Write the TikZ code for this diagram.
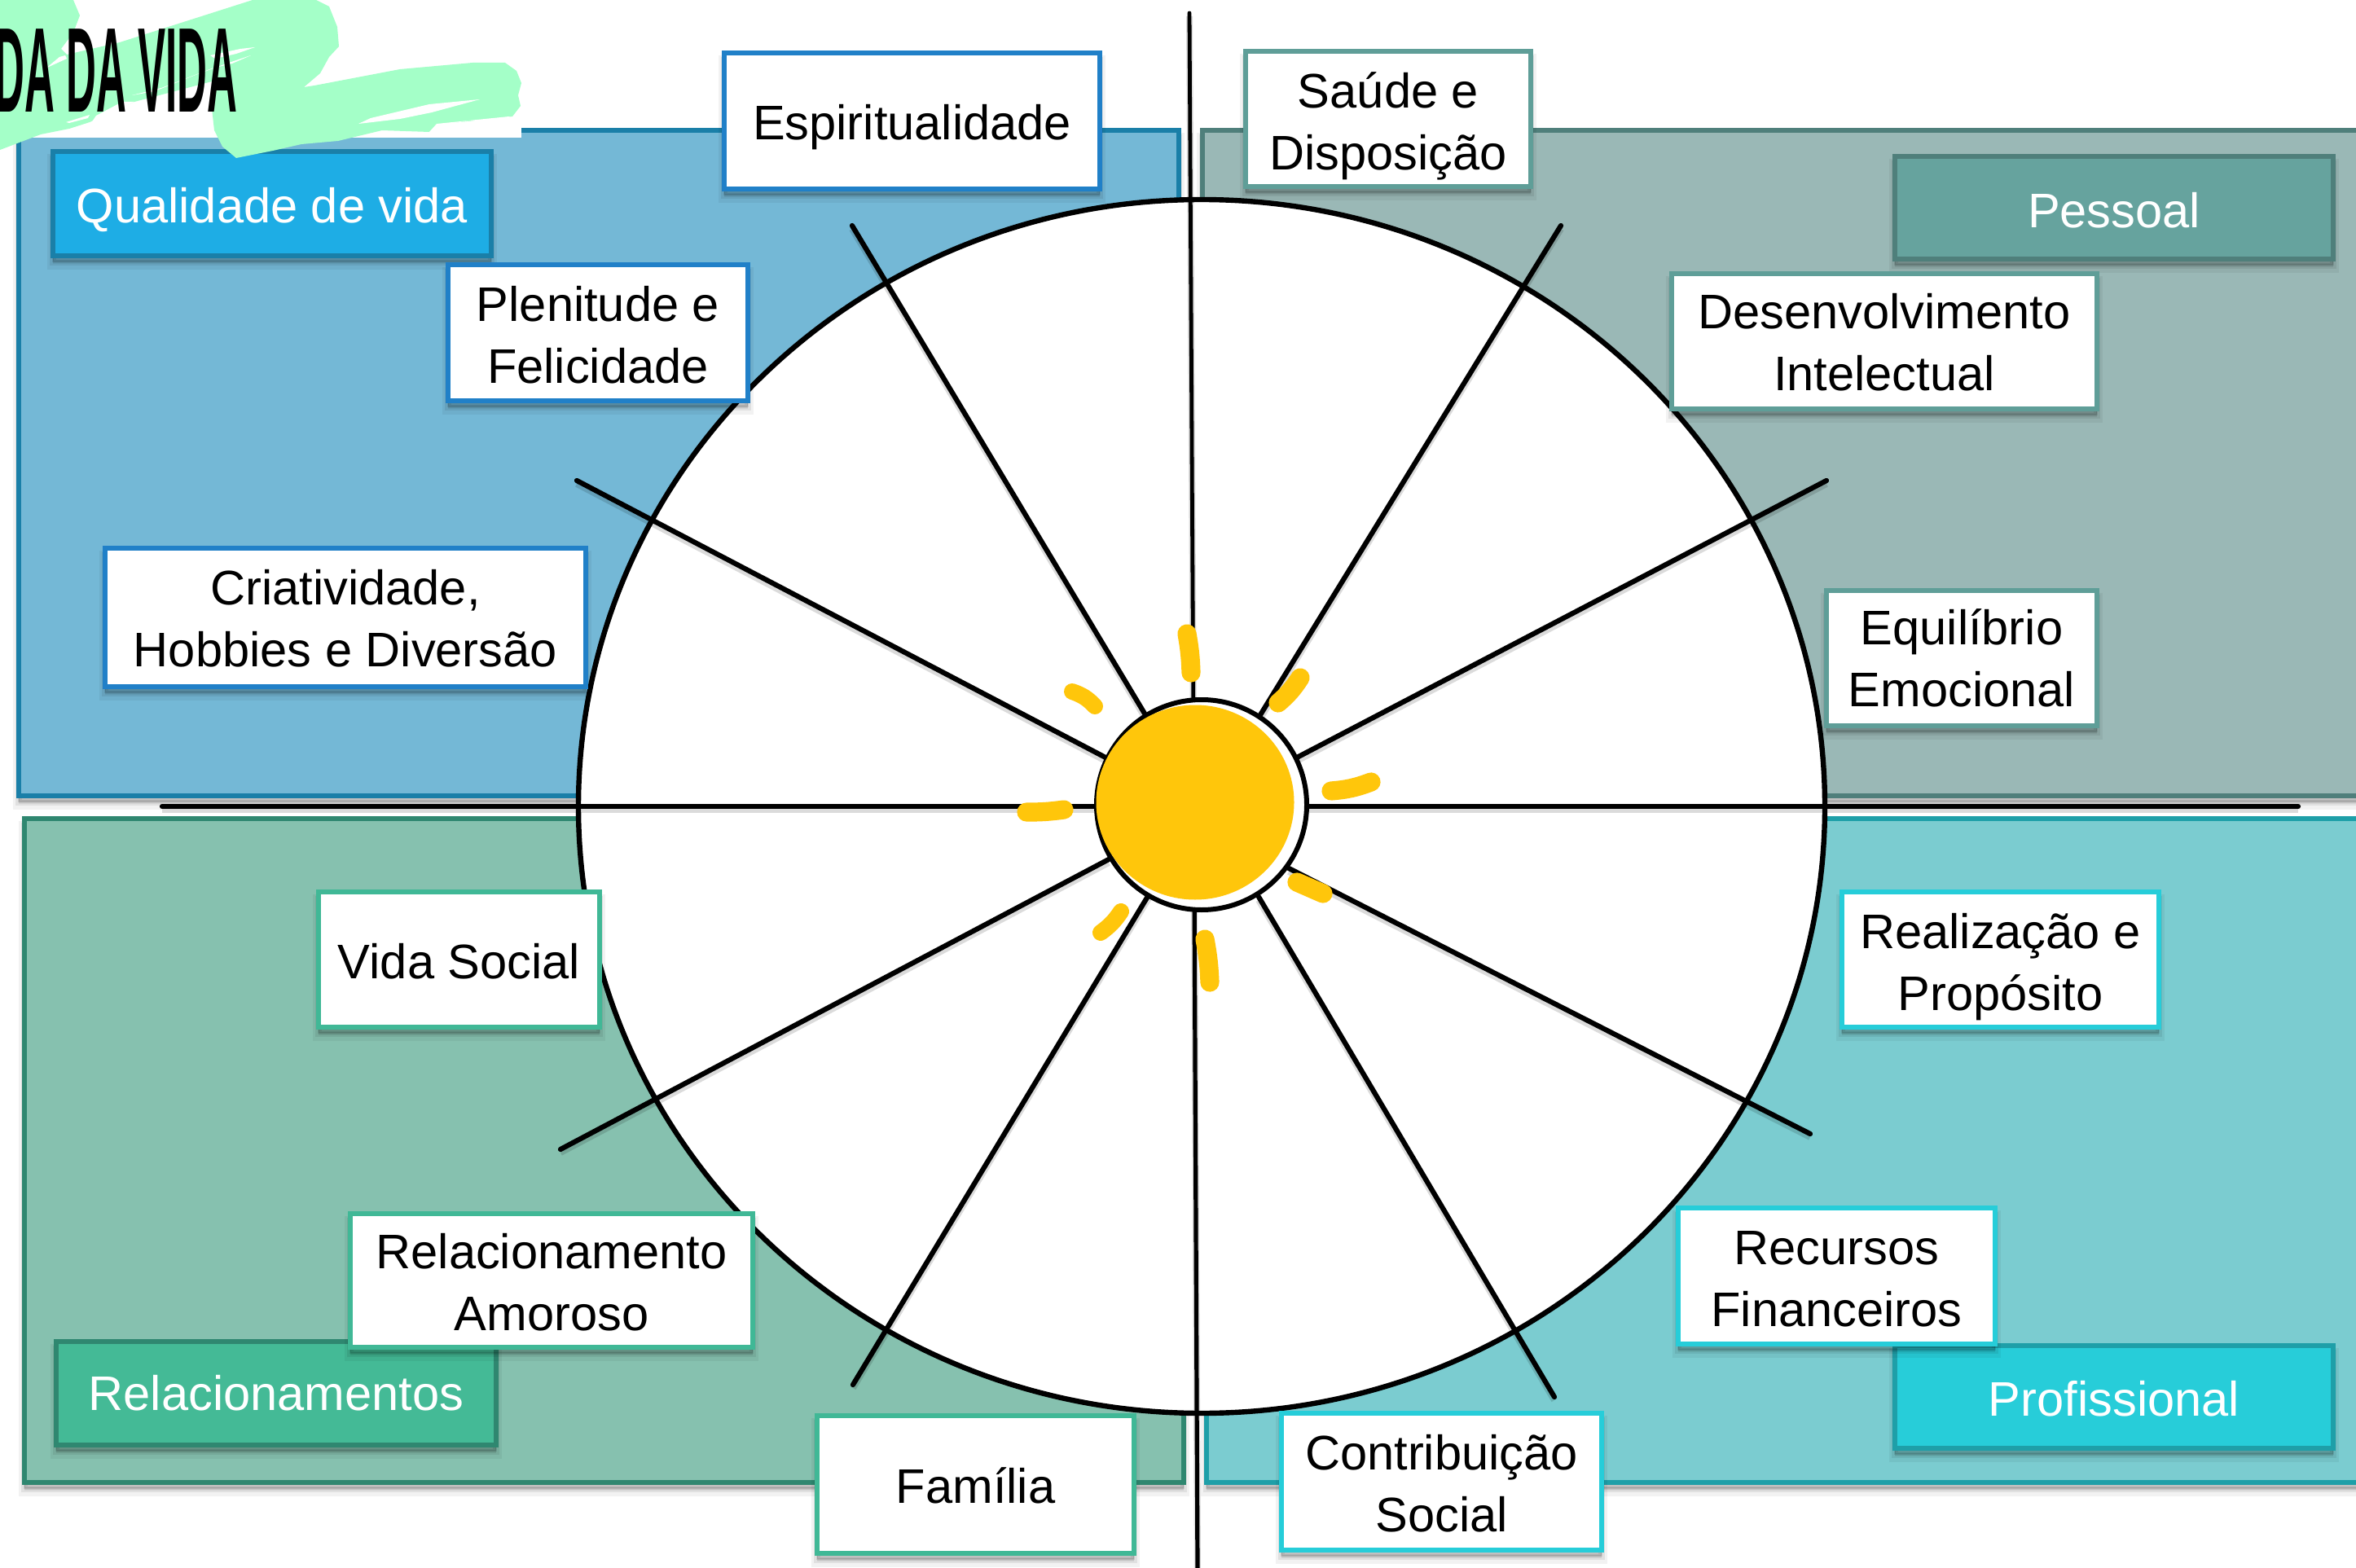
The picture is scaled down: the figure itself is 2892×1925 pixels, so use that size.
\documentclass[tikz,border=0pt]{standalone}
\usepackage{graphicx}
\usepackage{fontspec}
\setmainfont{Liberation Sans}
\usetikzlibrary{shapes.geometric,shadows}
\definecolor{qlFill}{HTML}{74B8D6}\definecolor{qlLine}{HTML}{1A7FA8}\definecolor{qlHead}{HTML}{1EADE5}\definecolor{qlBox}{HTML}{2080C8}
\definecolor{peFill}{HTML}{9AB8B6}\definecolor{peLine}{HTML}{4F7F7B}\definecolor{peHead}{HTML}{66A39E}\definecolor{peBox}{HTML}{5F9E98}
\definecolor{reFill}{HTML}{86C1AF}\definecolor{reLine}{HTML}{2F8770}\definecolor{reHead}{HTML}{44BA96}\definecolor{reBox}{HTML}{40B896}
\definecolor{prFill}{HTML}{7BCCD0}\definecolor{prLine}{HTML}{1E9FA8}\definecolor{prHead}{HTML}{27CDD9}\definecolor{prBox}{HTML}{26CDD9}
\definecolor{brush}{HTML}{A4FFC8}\definecolor{sunc}{HTML}{FFC60B}
\tikzset{
  softblur/.style={
    general shadow={shadow xshift=0pt,shadow yshift=-2.6pt,fill=black,draw=black,line width=3.5pt,opacity=.05},
    general shadow={shadow xshift=0pt,shadow yshift=-2.2pt,fill=black,draw=black,line width=1.8pt,opacity=.07},
    general shadow={shadow xshift=0pt,shadow yshift=-1.8pt,fill=black,draw=black,line width=.4pt,opacity=.09}},
  quad/.style={rectangle,inner sep=0pt,line width=1.4pt,softblur},
  lab/.style={rectangle,draw=#1,fill=white,line width=1.5pt,inner sep=0pt,align=center,text=black,softblur,
    font=\fontsize{14.9}{19}\selectfont},
  head/.style 2 args={rectangle,draw=#1,fill=#2,line width=1.5pt,inner sep=0pt,align=center,text=white,softblur,
    font=\fontsize{14.9}{19}\selectfont},
  wire/.style={draw=black,line width=1.55pt,line cap=round,
    general shadow={shadow xshift=0pt,shadow yshift=-1pt,draw=black,line width=2pt,opacity=.14}},
  ring/.style={ellipse,draw=black,inner sep=0pt},
  ray/.style={draw=sunc,line width=5.8pt,line cap=round},
}
\newcommand{\bx}[7]{\node[#6,minimum width={(#4-#2)*0.25pt},minimum height={(#5-#3)*0.25pt}] (#1) at ({(#2+#4)/2},{(#3+#5)/2}) {#7};}
\newcommand{\dn}[1]{\rule{0pt}{#1pt}}
\begin{document}
\begin{tikzpicture}[x=0.25pt,y=-0.25pt]
\path[use as bounding box,fill=white] (0,0) rectangle (2892,1925);
\begin{scope}
\clip (0,0) rectangle (2892,1925);
% quadrants
\bx{qTL}{23}{160}{1447}{977}{quad,draw=qlLine,fill=qlFill}{}
\bx{qTR}{1476}{160}{2960}{977}{quad,draw=peLine,fill=peFill}{}
\bx{qBL}{30}{1005}{1453}{1820}{quad,draw=reLine,fill=reFill}{}
\bx{qBR}{1481}{1005}{2960}{1820}{quad,draw=prLine,fill=prFill}{}
% wheel
\node[ring,fill=white,line width=1.6pt,minimum width={1530*0.25pt},minimum height={1490*0.25pt}] (wheel) at (1475,990) {};
% spokes
\coordinate (aT) at (1460,16);   \coordinate (iT) at (1465,900);
\coordinate (aB) at (1470,1925); \coordinate (iB) at (1466,1090);
\coordinate (aL) at (199,990);   \coordinate (aR) at (2821,990);
\coordinate (oA) at (1046,277);  \coordinate (iA) at (1405,876);
\coordinate (oB) at (708,590);   \coordinate (iB2) at (1359,931);
\coordinate (oC) at (1916,277);  \coordinate (iC) at (1545,881);
\coordinate (oD) at (2242,590);  \coordinate (iD) at (1590,931);
\coordinate (oE) at (688,1411);  \coordinate (iE) at (1361,1055);
\coordinate (oF) at (1047,1700); \coordinate (iF) at (1411,1097);
\coordinate (oG) at (2222,1392); \coordinate (iG) at (1582,1066);
\coordinate (oH) at (1908,1715); \coordinate (iH) at (1545,1101);
\draw[wire,line width=1.2pt] (aT) -- (iT);
\draw[wire,line width=1.3pt] (aB) -- (iB);
\draw[wire] (aL) -- (aR);
\draw[wire] (oA) -- (iA);
\draw[wire] (oB) -- (iB2);
\draw[wire] (oC) -- (iC);
\draw[wire] (oD) -- (iD);
\draw[wire] (oE) -- (iE);
\draw[wire] (oF) -- (iF);
\draw[wire] (oG) -- (iG);
\draw[wire] (oH) -- (iH);
% hub and sun
\node[ring,fill=white,line width=1.5pt,minimum width={258*0.25pt},minimum height={258*0.25pt}] (hub) at (1475,988) {};
\node[ellipse,fill=sunc,inner sep=0pt,minimum width={243*0.25pt},minimum height={239*0.25pt}] (sun) at (1467,985) {};
\draw[ray] (1457,778) to[bend left=4] (1462,826);
\draw[ray] (1596,832) to[bend left=8] (1569,863);
\draw[ray] (1634,971) to[bend right=8] (1683,960);
\draw[ray] (1592,1083) -- (1624,1097);
\draw[ray] (1479,1153) to[bend left=4] (1485,1206);
\draw[ray,line width=5pt] (1376,1119) to[bend left=10] (1351,1145);
\draw[ray] (1260,997) to[bend right=4] (1306,994);
\draw[ray,line width=5pt] (1316,849) to[bend left=14] (1344,867);
% headers
\bx{hQual}{65}{186}{603}{314}{head={qlLine}{qlHead}}{\dn{14.7}Qualidade de vida}
\bx{hPess}{2326}{192}{2864}{318}{head={peLine}{peHead}}{\dn{12.4}Pessoal}
\bx{hRela}{69}{1647}{609}{1774}{head={reLine}{reHead}}{Relacionamentos}
\bx{hProf}{2326}{1652}{2864}{1778}{head={prLine}{prHead}}{\dn{11.9}Profissional}
% labels
\bx{bEsp}{889}{65}{1350}{232}{lab=qlBox}{\dn{14.7}Espiritualidade}
\bx{bSau}{1529}{63}{1879}{229}{lab=peBox}{\dn{15.2}Saúde e\\Disposição}
\bx{bPle}{550}{325}{918}{492}{lab=qlBox}{\dn{11.9}Plenitude e\\Felicidade}
\bx{bDes}{2052}{336}{2574}{502}{lab=peBox}{\dn{11.5}Desenvolvimento\\Intelectual}
\bx{bCri}{129}{673}{719}{843}{lab=qlBox}{\dn{11.3}Criatividade,\\Hobbies e Diversão}
\bx{bEqu}{2242}{725}{2574}{891}{lab=peBox}{Equilíbrio\\Emocional}
\bx{bVid}{391}{1095}{736}{1261}{lab=reBox}{\dn{11.9}Vida Social}
\bx{bRea}{2261}{1095}{2650}{1261}{lab=prBox}{\dn{15.2}Realização e\\Propósito}
\bx{bRel}{430}{1490}{924}{1654}{lab=reBox}{\dn{11.9}Relacionamento\\Amoroso}
\bx{bRec}{2060}{1483}{2449}{1650}{lab=prBox}{\dn{11.9}Recursos\\Financeiros}
\bx{bFam}{1003}{1738}{1392}{1907}{lab=reBox}{\dn{11.5}Família}
\bx{bCon}{1573}{1735}{1966}{1903}{lab=prBox}{\dn{11.9}Contribuição\\Social}
% title patch
\fill[white] (0,0) rectangle (640,169);
\fill[brush] (0,0) -- (90,0) -- (98,19) -- (90,40) -- (75,60) -- (82,67) -- (147,52) -- (310,0) -- (388,0) -- (404,8) -- (414,33) -- (416,57) -- (404,70) -- (393,90) -- (373,107) -- (386,105) -- (491,85) -- (580,77) -- (620,77) -- (634,87) -- (640,102) -- (636,117) -- (639,130) -- (629,143) -- (536,153) -- (527,162) -- (469,160) -- (415,173) -- (370,177) -- (335,185) -- (290,194) -- (273,180) -- (263,160) -- (260,133) -- (260,100) -- (165,125) -- (110,150) -- (85,158) -- (50,165) -- (0,184) -- cycle;
\fill[white] (55,85) -- (73,70) -- (80,68) -- (82,72) -- (60,82) -- cycle;
\fill[white] (313,58) -- (295,60) -- (258,68) -- (264,72) -- (290,66) -- cycle;
\fill[white] (308,68) -- (278,78) -- (240,92) -- (190,112) -- (162,117) -- (198,108) -- (260,84) -- (285,78) -- cycle;
\fill[white] (81,150) -- (110,141) -- (108,145) -- (85,151) -- cycle;
\fill[white] (112,151) -- (165,125) -- (150,125) -- (118,142) -- cycle;
\fill[white] (440,152) -- (455,145) -- (527,128) -- (589,122) -- (530,138) -- (491,146) -- cycle;
\fill[white] (527,162) -- (536,152) -- (625,143) -- (629,148) -- (576,148) -- (536,155) -- cycle;
\node[anchor=base west,inner sep=0pt,text=black] (title) at (-7,138) {\scalebox{.345}[1]{\bfseries\fontsize{37}{40}\selectfont DA DA VIDA}};
\end{scope}
\end{tikzpicture}
\end{document}
